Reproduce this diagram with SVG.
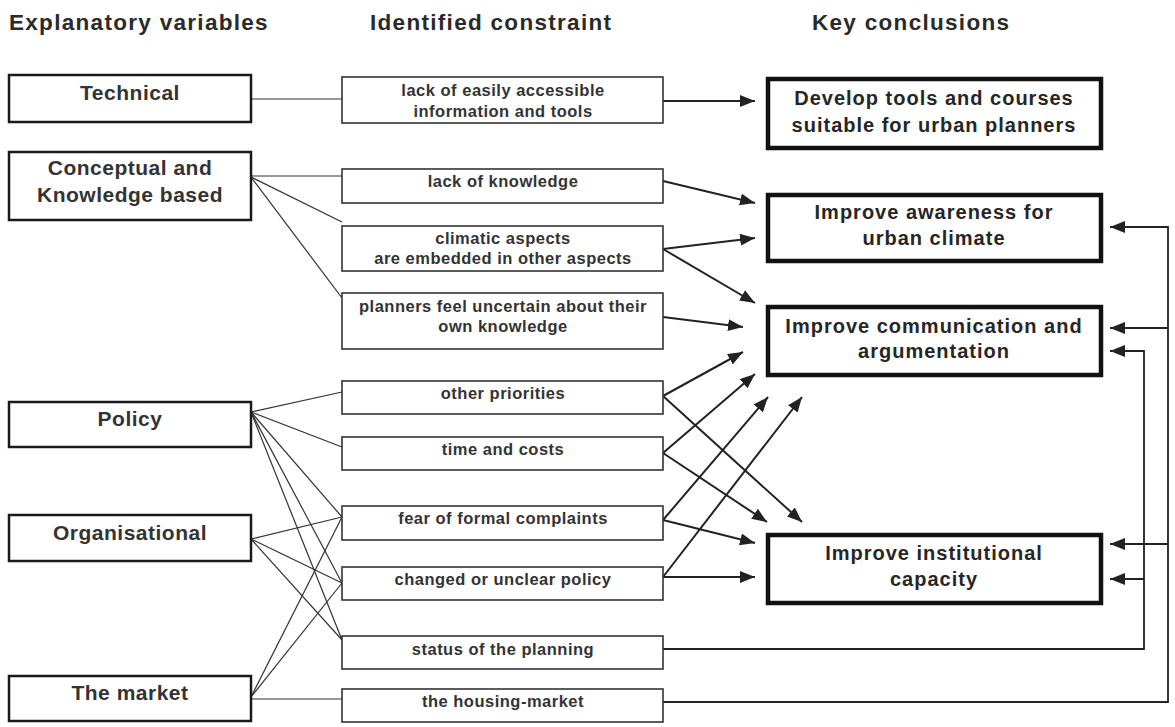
<svg xmlns="http://www.w3.org/2000/svg" width="1175" height="727" viewBox="0 0 1175 727">
<style>
.title{font-family:"Liberation Sans",Arial,sans-serif;font-weight:bold;font-size:22.5px;fill:#2a2a2a;letter-spacing:1.3px}
.lt{font-family:"Liberation Sans",Arial,sans-serif;font-weight:bold;font-size:21px;fill:#333;text-anchor:middle;letter-spacing:0.5px}
.mt{font-family:"Liberation Sans",Arial,sans-serif;font-weight:bold;font-size:16.5px;fill:#333;text-anchor:middle;letter-spacing:0.5px}
.rt{font-family:"Liberation Sans",Arial,sans-serif;font-weight:bold;font-size:20px;fill:#262626;text-anchor:middle;letter-spacing:1px}
.lb{fill:#fff;stroke:#1a1a1a;stroke-width:2.5}
.mb{fill:#fff;stroke:#333;stroke-width:1.6}
.rb{fill:#fff;stroke:#111;stroke-width:4.5}
.thin{fill:none;stroke:#333;stroke-width:1.2}
.arr{fill:none;stroke:#222;stroke-width:2;marker-end:url(#ah)}
.fba{fill:none;stroke:#222;stroke-width:1.8;marker-end:url(#ah)}
</style>
<defs>
<marker id="ah" markerUnits="userSpaceOnUse" markerWidth="16" markerHeight="12" refX="15" refY="6" orient="auto">
<path d="M0,0 L15,6 L0,12 z" fill="#222"/>
</marker>
</defs>
<rect width="1175" height="727" fill="#fff"/>
<g id="titles">
<text class="title" x="9" y="30">Explanatory variables</text>
<text class="title" x="370" y="30">Identified constraint</text>
<text class="title" x="812" y="30">Key conclusions</text>
</g>
<g id="connectors">
<path class="thin" d="M251,99 L342,99"/>
<path class="thin" d="M251,176 L342,176"/>
<path class="thin" d="M251,177 L342,222"/>
<path class="thin" d="M251,177 L342,298"/>
<path class="thin" d="M251,412 L342,392"/>
<path class="thin" d="M251,412 L342,447"/>
<path class="thin" d="M251,412 L342,517"/>
<path class="thin" d="M251,412 L342,583"/>
<path class="thin" d="M251,412 L342,640"/>
<path class="thin" d="M251,539 L342,517"/>
<path class="thin" d="M251,539 L342,583"/>
<path class="thin" d="M251,539 L342,640"/>
<path class="thin" d="M251,697 L342,517"/>
<path class="thin" d="M251,697 L342,583"/>
<path class="thin" d="M251,699 L342,699"/>
<path class="arr" d="M663,101 L755,101"/>
<path class="arr" d="M663,181 L755,203"/>
<path class="arr" d="M663,249 L755,238"/>
<path class="arr" d="M663,249 L755,303"/>
<path class="arr" d="M663,317 L743,327"/>
<path class="arr" d="M663,396 L743,352"/>
<path class="arr" d="M663,396 L802,522"/>
<path class="arr" d="M663,453 L755,374"/>
<path class="arr" d="M663,453 L767,522"/>
<path class="arr" d="M663,520 L768,397"/>
<path class="arr" d="M663,520 L755,543"/>
<path class="arr" d="M663,577 L802,397"/>
<path class="arr" d="M663,577 L755,577"/>
<path class="fba" d="M663,702 L1168,702 L1168,227 L1110,227"/>
<path class="fba" d="M1168,328 L1110,328"/>
<path class="fba" d="M1168,544 L1110,544"/>
<path class="fba" d="M663,649 L1144,649 L1144,351 L1110,351"/>
<path class="fba" d="M1144,579 L1110,579"/>
</g>
<g id="technical"><rect class="lb" x="9" y="75" width="242" height="47"/><text class="lt" x="130" y="100">Technical</text></g>
<g id="conceptual"><rect class="lb" x="9" y="152" width="242" height="68"/><text class="lt" x="130" y="175">Conceptual and</text><text class="lt" x="130" y="202">Knowledge based</text></g>
<g id="policy"><rect class="lb" x="9" y="402" width="242" height="45"/><text class="lt" x="130" y="426">Policy</text></g>
<g id="organisational"><rect class="lb" x="9" y="515" width="242" height="46"/><text class="lt" x="130" y="540">Organisational</text></g>
<g id="market"><rect class="lb" x="9" y="676" width="242" height="45"/><text class="lt" x="130" y="700">The market</text></g>

<g id="c-info"><rect class="mb" x="342" y="77" width="321" height="46"/><text class="mt" x="503" y="96">lack of easily accessible</text><text class="mt" x="503" y="117">information and tools</text></g>
<g id="c-knowledge"><rect class="mb" x="342" y="169" width="321" height="34"/><text class="mt" x="503" y="187">lack of knowledge</text></g>
<g id="c-climatic"><rect class="mb" x="342" y="226" width="321" height="45"/><text class="mt" x="503" y="244">climatic aspects</text><text class="mt" x="503" y="264">are embedded in other aspects</text></g>
<g id="c-uncertain"><rect class="mb" x="342" y="293" width="321" height="56"/><text class="mt" x="503" y="312">planners feel uncertain about their</text><text class="mt" x="503" y="332">own knowledge</text></g>
<g id="c-priorities"><rect class="mb" x="342" y="381" width="321" height="33"/><text class="mt" x="503" y="399">other priorities</text></g>
<g id="c-time"><rect class="mb" x="342" y="437" width="321" height="33"/><text class="mt" x="503" y="455">time and costs</text></g>
<g id="c-fear"><rect class="mb" x="342" y="506" width="321" height="34"/><text class="mt" x="503" y="524">fear of formal complaints</text></g>
<g id="c-changed"><rect class="mb" x="342" y="567" width="321" height="33"/><text class="mt" x="503" y="585">changed or unclear policy</text></g>
<g id="c-status"><rect class="mb" x="342" y="636" width="321" height="33"/><text class="mt" x="503" y="655">status of the planning</text></g>
<g id="c-housing"><rect class="mb" x="342" y="689" width="321" height="33"/><text class="mt" x="503" y="707">the housing-market</text></g>

<g id="k-tools"><rect class="rb" x="768" y="79" width="333" height="69"/><text class="rt" x="934" y="105">Develop tools and courses</text><text class="rt" x="934" y="132">suitable for urban planners</text></g>
<g id="k-awareness"><rect class="rb" x="768" y="195" width="333" height="66"/><text class="rt" x="934" y="219">Improve awareness for</text><text class="rt" x="934" y="245">urban climate</text></g>
<g id="k-communication"><rect class="rb" x="768" y="307" width="333" height="68"/><text class="rt" x="934" y="333">Improve communication and</text><text class="rt" x="934" y="358">argumentation</text></g>
<g id="k-institutional"><rect class="rb" x="768" y="535" width="333" height="68"/><text class="rt" x="934" y="560">Improve institutional</text><text class="rt" x="934" y="586">capacity</text></g>
</svg>
